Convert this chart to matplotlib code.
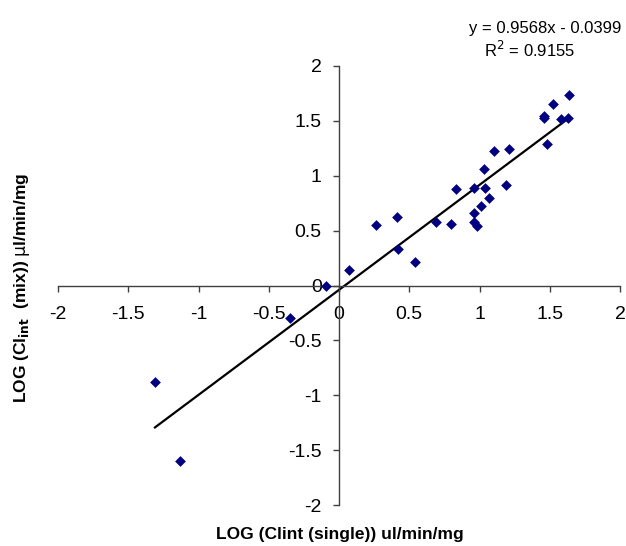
import matplotlib.pyplot as plt
import numpy as np

plt.rcParams['font.family'] = ['Liberation Sans', 'DejaVu Sans']

# data
log_single = [-1.31, -1.13, -0.35, -0.09, 0.07, 0.26, 0.41, 0.42, 0.54, 0.69,
              0.80, 0.83, 0.96, 0.96, 0.96, 0.98, 1.01, 1.03, 1.04, 1.07,
              1.10, 1.19, 1.21, 1.46, 1.46, 1.48, 1.52, 1.58, 1.63, 1.64]
log_mix = [-0.88, -1.60, -0.30, 0.00, 0.14, 0.55, 0.62, 0.33, 0.21, 0.58,
           0.56, 0.88, 0.89, 0.66, 0.58, 0.54, 0.72, 1.06, 0.89, 0.80,
           1.23, 0.92, 1.24, 1.54, 1.53, 1.29, 1.65, 1.52, 1.53, 1.74]
slope = 0.9568
intercept = -0.0399
r2 = 0.9155
ticks = [-2, -1.5, -1, -0.5, 0, 0.5, 1, 1.5, 2]
tick_labels = ['-2', '-1.5', '-1', '-0.5', '0', '0.5', '1', '1.5', '2']

fig = plt.figure(figsize=(6.26, 5.46), dpi=100)
ax = fig.add_axes([58 / 626, 1 - 505 / 546, 562 / 626, 439 / 546])

ax.scatter(log_single, log_mix, marker='D', s=30, color='#000080', zorder=3, linewidths=0)
xf = np.array([min(log_single), max(log_single)])
ax.plot(xf, slope * xf + intercept, color='black', lw=1.6, zorder=2)

ax.set_xlim(-2, 2)
ax.set_ylim(-2, 2)
for s in ['top', 'right']:
    ax.spines[s].set_visible(False)
for s in ['left', 'bottom']:
    ax.spines[s].set_position(('data', 0))
    ax.spines[s].set_color('#404040')
    ax.spines[s].set_linewidth(1)

ax.set_xticks(ticks)
ax.set_xticklabels(tick_labels)
ax.set_yticks(ticks)
ax.set_yticklabels(tick_labels)
ax.tick_params(direction='out', length=4.5, width=1, color='#404040', labelsize=14)
ax.tick_params(axis='x', pad=10)
ax.tick_params(axis='y', pad=8)

fig.text(340 / 626, 1 - 535 / 546, 'LOG (Clint (single)) ul/min/mg',
         fontsize=12.5, fontweight='bold', ha='center', va='center')
fig.text(22 / 626, 1 - 288 / 546, r'LOG (Cl$_{\mathbf{int}}$  (mix)) $\mathrm{\mu}$l/min/mg',
         fontsize=12.5, fontweight='bold', ha='center', va='center', rotation=90)

fig.text(621 / 626, 1 - 28 / 546, f'y = {slope}x - {abs(intercept)}',
         fontsize=12, ha='right', va='center')
fig.text(530 / 626, 1 - 50 / 546, f'R$^2$ = {r2}',
         fontsize=12, ha='center', va='center')

fig.savefig('out.png', dpi=100)
